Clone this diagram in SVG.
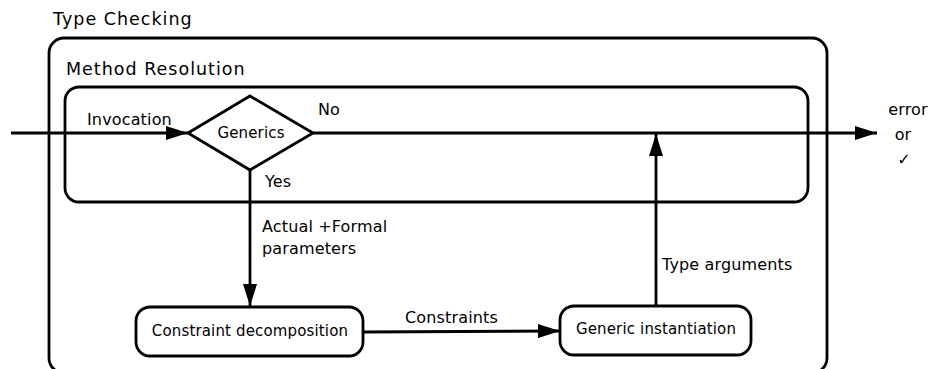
<svg xmlns="http://www.w3.org/2000/svg" width="931" height="369" viewBox="0 0 931 369">
<defs>
<style>
text{font-family:"DejaVu Sans",sans-serif;fill:#000}
.box{fill:none;stroke:#000;stroke-width:2.8}
.node{fill:#fff;stroke:#000;stroke-width:2.8}
.ln{fill:none;stroke:#000;stroke-width:2.8}
.t1{font-size:17.5px;letter-spacing:1px}
.t2{font-size:16px;letter-spacing:0.15px}
.t3{font-size:15px;letter-spacing:0.15px}
</style>
<marker id="ah" viewBox="0 0 22 14" refX="22" refY="7" markerWidth="22" markerHeight="14" markerUnits="userSpaceOnUse" orient="auto">
<path d="M0,0 L22,7 L0,14 Z" fill="#000"/>
</marker>
</defs>
<rect width="931" height="369" fill="#fff"/>
<g id="type-checking">
<rect class="box" x="49" y="38" width="778" height="335" rx="15"/>
<text class="t1" x="53" y="25">Type Checking</text>
</g>
<g id="method-resolution">
<rect class="box" x="65" y="87" width="743" height="115" rx="14"/>
<text class="t1" x="66" y="75">Method Resolution</text>
</g>
<g id="connectors">
<line class="ln" x1="11" y1="133" x2="188" y2="133" marker-end="url(#ah)"/>
<line class="ln" x1="313" y1="133" x2="877" y2="133" marker-end="url(#ah)"/>
<line class="ln" x1="250" y1="170" x2="250" y2="306" marker-end="url(#ah)"/>
<line class="ln" x1="363" y1="332" x2="560" y2="331" marker-end="url(#ah)"/>
<line class="ln" x1="656" y1="306" x2="656" y2="134" marker-end="url(#ah)"/>
<text class="t2" x="87" y="125">Invocation</text>
<text class="t2" x="318" y="115">No</text>
<text class="t2" x="265" y="187">Yes</text>
<text class="t2" x="262" y="232">Actual +Formal</text>
<text class="t2" x="262" y="254">parameters</text>
<text class="t2" x="405" y="323">Constraints</text>
<text class="t2" x="662" y="270">Type arguments</text>
</g>
<g id="generics">
<polygon class="node" points="250,96 313,133 250,170 188,133"/>
<text class="t3" x="251" y="138" text-anchor="middle">Generics</text>
</g>
<g id="constraint-decomposition">
<rect class="node" x="136" y="307" width="227" height="49" rx="14"/>
<text class="t3" x="250" y="336" text-anchor="middle">Constraint decomposition</text>
</g>
<g id="generic-instantiation">
<rect class="node" x="560" y="306" width="191" height="49" rx="14"/>
<text class="t3" x="656" y="334" text-anchor="middle">Generic instantiation</text>
</g>
<g id="result">
<text class="t2" x="908" y="115" text-anchor="middle">error</text>
<text class="t2" x="903" y="140" text-anchor="middle">or</text>
<text class="t2" x="904" y="165" text-anchor="middle">✓</text>
</g>
</svg>
